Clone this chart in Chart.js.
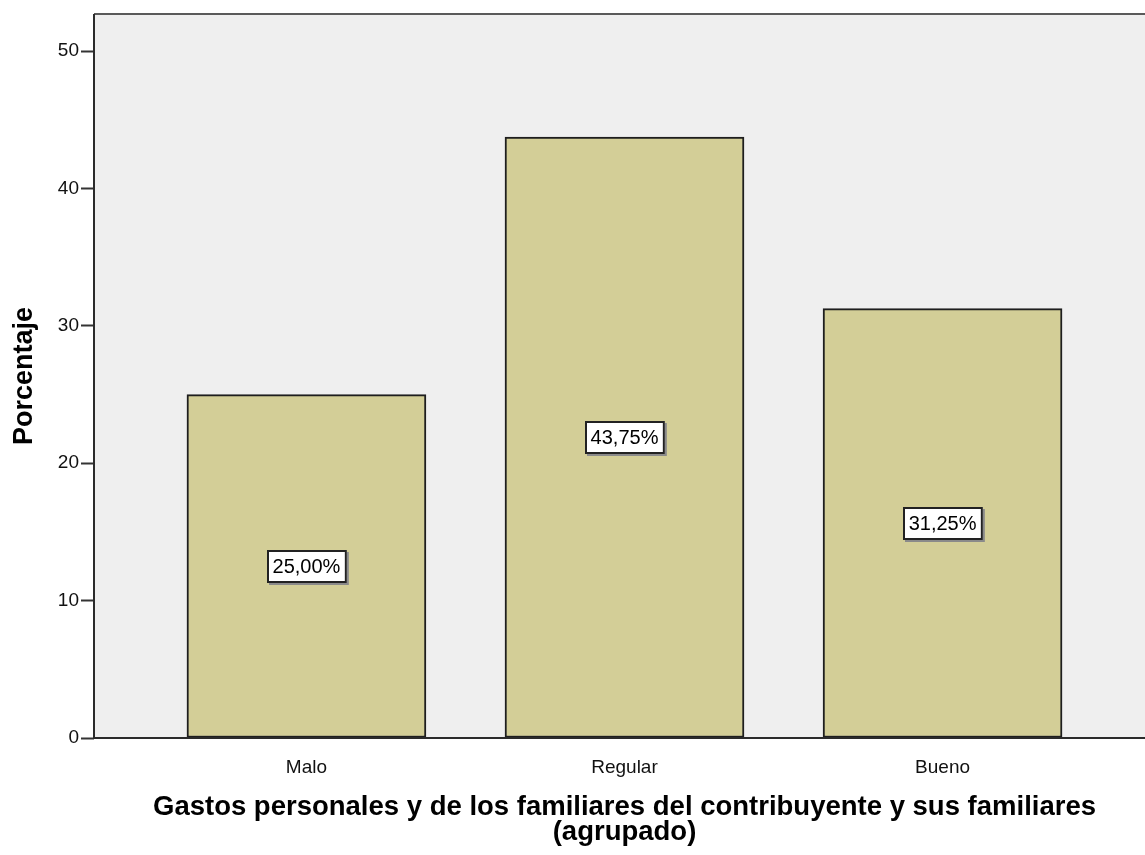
<!DOCTYPE html>
<html>
<head>
<meta charset="utf-8">
<script src="https://cdn.jsdelivr.net/npm/chart.js@4.4.1/dist/chart.umd.min.js"></script>
<style>
  html, body { margin: 0; padding: 0; background: #ffffff; overflow: hidden; }
  #wrap { width: 1145px; height: 855px; overflow: hidden; }
  canvas { display: block; }
</style>
</head>
<body>
<div id="wrap"><canvas id="chart" width="1160" height="855"></canvas></div>
<script>
// Categories and percentages of the grouped variable
const categories = ['Malo', 'Regular', 'Bueno'];
const percentages = [25.00, 43.75, 31.25];
const yTicks = [0, 10, 20, 30, 40, 50];
const yTitle = 'Porcentaje';
const xTitle = ['Gastos personales y de los familiares del contribuyente y sus familiares', '(agrupado)'];

const FONT = '"Liberation Sans", Arial, Helvetica, sans-serif';

// Grey plot background and the frame around the plot area
const plotFrame = {
  id: 'plotFrame',
  beforeDraw(chart) {
    const { ctx, chartArea: a } = chart;
    ctx.save();
    ctx.fillStyle = '#efefef';
    ctx.fillRect(a.left, a.top, a.right - a.left, a.bottom - a.top);
    ctx.restore();
  },
  afterDatasetsDraw(chart) {
    const { ctx, chartArea: a } = chart;
    ctx.save();
    ctx.lineWidth = 2;
    ctx.strokeStyle = '#5a5a5a';
    ctx.beginPath();
    ctx.moveTo(a.left, a.top);
    ctx.lineTo(a.right, a.top);
    ctx.lineTo(a.right, a.bottom);
    ctx.stroke();
    ctx.strokeStyle = '#2b2b2b';
    ctx.beginPath();
    ctx.moveTo(a.left, a.top);
    ctx.lineTo(a.left, a.bottom);
    ctx.lineTo(a.right, a.bottom);
    ctx.stroke();
    ctx.restore();
  }
};

// Boxed percentage label in the middle of each bar
const valueBoxes = {
  id: 'valueBoxes',
  afterDatasetsDraw(chart) {
    const { ctx } = chart;
    const meta = chart.getDatasetMeta(0);
    const yScale = chart.scales.y;
    ctx.save();
    ctx.font = '20px ' + FONT;
    ctx.textAlign = 'center';
    ctx.textBaseline = 'middle';
    meta.data.forEach((bar, i) => {
      const v = percentages[i];
      const text = v.toFixed(2).replace('.', ',') + '%';
      const cx = bar.x;
      const cy = yScale.getPixelForValue(v / 2);
      const w = ctx.measureText(text).width + 12;
      const h = 33;
      const x0 = Math.round(cx - w / 2);
      const y0 = Math.round(cy - h / 2);
      ctx.fillStyle = '#8a8a8a';
      ctx.fillRect(x0 + 2, y0 + 2, w, h);
      ctx.fillStyle = '#ffffff';
      ctx.fillRect(x0, y0, w, h);
      ctx.lineWidth = 2;
      ctx.strokeStyle = '#222222';
      ctx.strokeRect(x0 + 1, y0 + 1, w - 2, h - 2);
      ctx.fillStyle = '#000000';
      ctx.fillText(text, cx, cy + 1);
    });
    ctx.restore();
  }
};

new Chart(document.getElementById('chart'), {
  type: 'bar',
  data: {
    datasets: [{
      data: categories.map((c, i) => ({ x: i, y: percentages[i] })),
      backgroundColor: '#d3ce97',
      borderColor: '#1e1e1e',
      borderWidth: 2,
      borderSkipped: false,
      barThickness: 239
    }]
  },
  options: {
    responsive: false,
    devicePixelRatio: 1,
    animation: false,
    layout: { padding: { top: 14, right: 5, left: 0, bottom: 0 } },
    plugins: {
      legend: { display: false },
      tooltip: { enabled: false }
    },
    scales: {
      x: {
        type: 'linear',
        offset: false,
        bounds: 'data',
        min: -0.668,
        max: 2.668,
        afterBuildTicks(scale) { scale.ticks = categories.map((c, i) => ({ value: i })); },
        afterFit(scale) { scale.height = 117; },
        grid: { display: false, offset: false },
        border: { display: false },
        ticks: {
          autoSkip: false,
          maxRotation: 0,
          padding: 10,
          color: '#111111',
          font: { family: FONT, size: 19 },
          callback: (v) => categories[v]
        },
        title: {
          display: true,
          text: xTitle,
          color: '#000000',
          font: { family: FONT, size: 27.5, weight: 'bold', lineHeight: 25 / 27.5 },
          padding: { top: 0, bottom: 10 }
        }
      },
      y: {
        type: 'linear',
        min: 0,
        max: 52.7,
        afterBuildTicks(scale) { scale.ticks = yTicks.map(v => ({ value: v })); },
        afterFit(scale) { scale.width = 94; },
        grid: { display: true, drawOnChartArea: false, drawTicks: true, tickLength: 13, tickColor: '#333333', tickWidth: 2 },
        border: { display: false },
        ticks: {
          padding: 2,
          color: '#111111',
          font: { family: FONT, size: 19 }
        },
        title: {
          display: true,
          text: yTitle,
          color: '#000000',
          font: { family: FONT, size: 27, weight: 'bold', lineHeight: 1.2 },
          padding: { top: 8, bottom: 0 }
        }
      }
    }
  },
  plugins: [plotFrame, valueBoxes]
});
</script>
</body>
</html>
